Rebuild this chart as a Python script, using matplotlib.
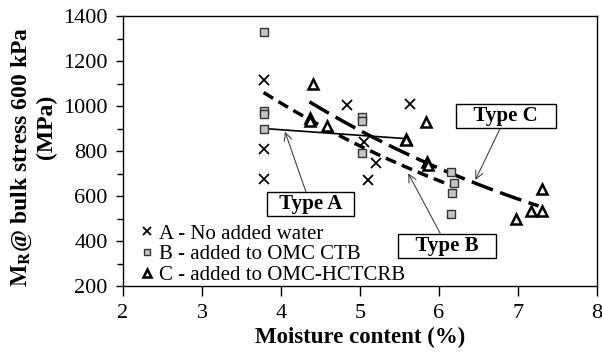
import numpy as np
import matplotlib
matplotlib.use("Agg")
import matplotlib.pyplot as plt
from matplotlib.ticker import MultipleLocator

plt.rcParams['font.family'] = ['Liberation Serif', 'DejaVu Serif']
plt.rcParams['mathtext.fontset'] = 'stix'

# ---- data ----
A_x = [3.78, 3.78, 3.78, 4.84, 5.05, 5.10, 5.20, 5.63]
A_y = [1115, 810, 675, 1005, 840, 670, 745, 1008]

B_x = [3.78, 3.78, 3.78, 3.78, 5.02, 5.02, 5.02, 6.15, 6.19, 6.16, 6.15]
B_y = [1330, 980, 965, 900, 950, 935, 790, 705, 660, 615, 520]

C_x = [4.40, 4.37, 4.37, 4.58, 5.58, 5.58, 5.83, 5.85, 5.86, 6.98, 7.16, 7.30, 7.31]
C_y = [1098, 945, 935, 912, 855, 848, 930, 750, 740, 496, 535, 532, 630]

legend_labels = ['A - No added water', 'B - added to OMC CTB', 'C - added to OMC-HCTCRB']

# trend lines
trendA_x = [3.78, 5.58]
trendA_y = [900, 855]
trendB_coef = [2327, -0.208]   # y = a*exp(b*x)
trendB_range = [3.78, 6.17]
trendC_coef = [2534, -0.209]
trendC_range = [4.36, 7.26]

type_labels = ['Type A', 'Type B', 'Type C']
type_box_xy = [(4.37, 564), (6.10, 378), (6.85, 956)]
type_arrow_xy = [(4.05, 886), (5.61, 701), (6.46, 671)]

x_ticks = [2, 3, 4, 5, 6, 7, 8]
y_ticks = [200, 400, 600, 800, 1000, 1200, 1400]

# ---- figure ----
fig = plt.figure(figsize=(6.02, 3.53), dpi=100)
ax = fig.add_axes([123/602, 1-286/353, (597-123)/602, (286-16)/353])

ax.plot(A_x, A_y, linestyle='none', marker='x', ms=7, mew=1.3, color='black',
        label=legend_labels[0], zorder=3)
ax.plot(B_x, B_y, linestyle='none', marker='s', ms=6, mew=1.0, mfc='#c4c4c4',
        mec='#333333', label=legend_labels[1], zorder=3)
ax.plot(C_x, C_y, linestyle='none', marker='^', ms=7.5, mew=1.8, mfc='white',
        mec='black', label=legend_labels[2], zorder=3)

ax.plot(trendA_x, trendA_y, color='black', lw=1.2, zorder=2)
xb = np.linspace(trendB_range[0], trendB_range[1], 100)
ax.plot(xb, trendB_coef[0]*np.exp(trendB_coef[1]*xb), color='black', lw=2.5,
        dashes=(3.2, 1.8), zorder=2)
xc = np.linspace(trendC_range[0], trendC_range[1], 100)
ax.plot(xc, trendC_coef[0]*np.exp(trendC_coef[1]*xc), color='black', lw=2.5,
        dashes=(6.5, 2.2), zorder=2)

for lab, bxy, axy in zip(type_labels, type_box_xy, type_arrow_xy):
    txt = ('  ' + lab + '  ') if lab == 'Type A' else ('   ' + lab + '   ')
    ax.annotate(txt, xy=axy, xytext=bxy, textcoords='data',
                ha='center', va='center', fontsize=15, fontweight='bold',
                bbox=dict(boxstyle='square,pad=0.1', fc='white', ec='black', lw=1.0),
                arrowprops=dict(arrowstyle='->', color='#444444', lw=0.8,
                                shrinkA=0, shrinkB=0, mutation_scale=14),
                zorder=4)

ax.set_xlim(2, 8)
ax.set_ylim(200, 1400)
ax.set_xticks(x_ticks)
ax.set_yticks(y_ticks)
ax.yaxis.set_minor_locator(MultipleLocator(100))
ax.tick_params(axis='x', which='major', direction='out', length=7, width=1,
               labelsize=16, pad=6)
ax.tick_params(axis='y', which='major', direction='out', length=5, width=1,
               labelsize=16, pad=6)
ax.tick_params(axis='y', which='minor', direction='out', length=4, width=1)
for s in ax.spines.values():
    s.set_linewidth(1.0)

ax.set_xlabel('Moisture content (%)', fontsize=16.5, fontweight='bold', labelpad=3)

fig.text(22/602, 1-157/353, r'$\mathbf{M_R}$@ bulk stress 600 kPa', rotation=90,
         ha='center', va='center', fontsize=17, fontweight='bold')
fig.text(46/602, 1-127/353, '(MPa)', rotation=90, ha='center', va='center',
         fontsize=17, fontweight='bold')

leg = ax.legend(loc='lower left', bbox_to_anchor=(0.006, -0.05), frameon=False,
                fontsize=15, handlelength=0.6, handletextpad=0.3,
                labelspacing=0.05, borderaxespad=0.3, markerscale=0.75)

fig.savefig('out.png', dpi=100)
